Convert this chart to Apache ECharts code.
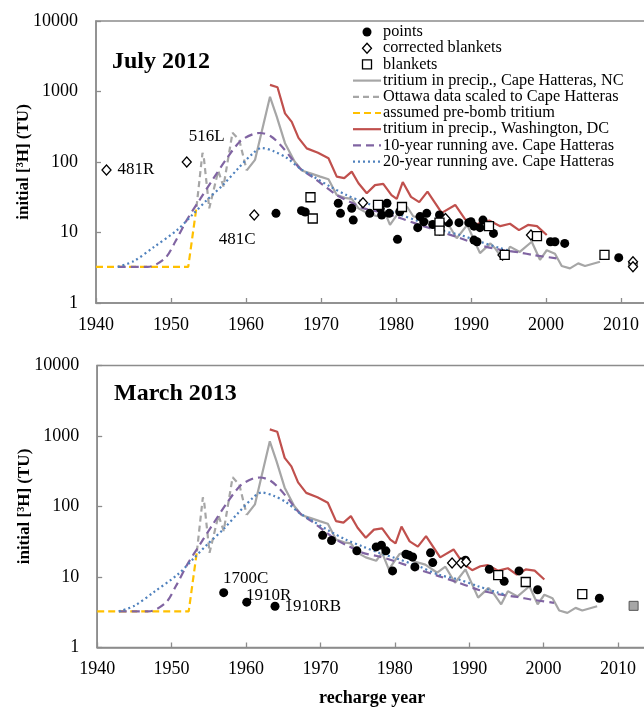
<!DOCTYPE html>
<html><head><meta charset="utf-8">
<script src="https://cdn.jsdelivr.net/npm/echarts@6/dist/echarts.min.js"></script>
<style>html,body{margin:0;padding:0;background:#fff}#c{width:644px;height:707px}</style>
</head><body><div id="c"></div>
<script>
// ---- data ----
const yTicks = [1, 10, 100, 1000, 10000];
const xTicks = [1940, 1950, 1960, 1970, 1980, 1990, 2000, 2010];
const panelTitles = ['July 2012', 'March 2013'];

const capeHatteras = [[1960.1,76],[1961.2,107],[1963.2,840],[1964.1,440],[1965.2,185],[1966.5,101],[1967.5,75],[1968.6,69],[1969.9,62],[1971.0,57],[1972.1,34],[1973.2,31],[1974.1,30],[1975.0,22],[1976.1,19],[1977.5,17],[1978.3,22],[1979.2,12.8],[1980.6,21],[1981.5,23],[1982.3,17],[1984.1,15],[1985.7,11.5],[1986.8,14],[1988.1,8.3],[1989.5,12.8],[1991.2,5.1],[1992.6,7.0],[1993.2,6.0],[1994.3,4.1],[1995.2,6.3],[1996.5,5.3],[1998.1,7.4],[1999.2,4.1],[2000.1,5.6],[2001.2,5.0],[2002.1,3.35],[2003.2,3.1],[2004.3,3.65],[2005.2,3.35],[2007.2,3.85]];
const ottawa = [[1953.4,23],[1954.2,135],[1954.4,110],[1955.1,22],[1956.3,75],[1957.0,45],[1958.2,260],[1959.1,205],[1960.1,76]];
const preBomb = [[1940,3.25],[1952.3,3.25],[1953.4,23]];
const washington = [[1963.2,1240],[1964.2,1150],[1965.2,490],[1966.1,370],[1967.0,220],[1968.1,156],[1969.6,135],[1971.0,113],[1972.1,62],[1973.1,59],[1974.1,73],[1975.0,50],[1976.1,36],[1977.2,47],[1978.3,49],[1979.4,34],[1980.1,30],[1980.9,52],[1982.0,32],[1983.1,27],[1984.2,38],[1986.1,19],[1987.9,24.6],[1989.2,15.5],[1990.4,12.5],[1991.5,14.2],[1992.5,14.7],[1993.9,12.3],[1995.2,13.3],[1996.4,10.8],[1997.6,12.8],[1998.8,12.3],[2000.1,9.2]];
const ave10 = [[1942.9,3.25],[1946.9,3.25],[1949.2,4.3],[1950.6,7.5],[1952.1,15],[1953.9,30],[1955.5,55],[1957.5,115],[1959.3,200],[1961.0,250],[1961.9,258],[1963.3,232],[1964.6,174],[1965.9,119],[1967.2,81],[1968.8,62],[1970.3,47],[1972.1,34],[1973.9,27],[1975.7,22],[1977.9,19.5],[1980.2,16.5],[1983.2,12.8],[1985.9,10.3],[1988.6,8.3],[1991.2,6.6],[1993.9,5.7],[1996.5,5.2],[1998.3,4.8],[2001.4,4.3]];
const ave20 = [[1942.9,3.25],[1945.0,3.9],[1947.7,6.2],[1950.8,10.8],[1953.0,18.5],[1954.8,29],[1957.0,48],[1959.0,82],[1961.0,135],[1962.1,158],[1963.7,142],[1965.4,115],[1967.2,81],[1969.0,62],[1971.2,45],[1973.4,34],[1975.7,27],[1977.9,22],[1980.1,18.5],[1983.2,14.2],[1985.9,10.8],[1988.6,9.2],[1991.2,7.4],[1993.9,6.0],[1994.9,5.6]];

// July 2012 panel
const pointsTop = [[1964.0,18.7],[1967.4,20.4],[1967.9,19.5],[1972.3,26],[1972.6,18.7],[1974.1,22],[1974.3,15],[1976.5,18.7],[1977.9,22],[1978.1,17.7],[1978.8,26],[1979.1,18.7],[1980.2,8],[1980.5,19.7],[1982.9,11.7],[1983.2,16.8],[1983.7,14.2],[1984.1,18.7],[1984.9,13],[1985.8,17.7],[1986.4,15],[1987.0,13.8],[1988.4,13.8],[1989.7,13.8],[1990.0,14.2],[1990.4,7.8],[1990.8,7.4],[1990.4,12.3],[1991.2,11.7],[1991.6,15],[1993.0,9.7],[2000.6,7.4],[2001.2,7.4],[2002.5,7.0],[2009.7,4.4]];
const corrTop = [[1941.4,77],[1952.1,100],[1961.1,17.7],[1975.6,26.5],[1985.8,10.8],[1986.6,15.8],[1994.2,4.8],[1998.0,9.2],[2011.6,3.85],[2011.6,3.27]];
const corrTopLabels = ['481R','516L','481C','','','','','','',''];
const blanketsTop = [[1968.6,31.6],[1968.9,15.8],[1977.6,24.6],[1980.8,23],[1985.8,13.8],[1985.8,10.6],[1992.4,12.3],[1994.5,4.8],[1998.8,8.9],[2007.8,4.8]];
const grayTop = [[2011.6,3.55]];

// March 2013 panel
const pointsBottom = [[1957.0,6.0],[1960.1,4.4],[1963.9,3.85],[1970.3,39],[1971.5,33],[1974.9,23.5],[1977.5,26.7],[1978.2,28.3],[1978.8,23.5],[1979.7,12.2],[1981.5,21],[1981.9,20.4],[1982.4,19.2],[1982.7,13.9],[1984.8,22],[1985.1,16],[1989.5,17.3],[1992.7,12.9],[1994.7,8.7],[1996.7,12.2],[1999.2,6.6],[2007.5,5.0]];
const pointsBottomLabels = ['1700C','1910R','1910RB','','','','','','','','','','','','','','','','','','',''];
const corrBottom = [[1987.7,15.8],[1988.9,15.8],[1989.6,16.4]];
const blanketsBottom = [[1993.9,10.6],[1997.6,8.5],[2005.2,5.7]];
const grayBottom = [[2012.1,3.9]];

// ---- chart ----
const FONT = 'Liberation Serif, Times New Roman, serif';
const AX = '#8c8c8c';
const STY = {
  ch: {name: 'tritium in precip., Cape Hatteras, NC', color: '#a6a6a6', dash: null},
  ot: {name: 'Ottawa data scaled to Cape Hatteras', color: '#a6a6a6', dash: [6, 4]},
  pb: {name: 'assumed pre-bomb tritium', color: '#ffc000', dash: [7, 4]},
  dc: {name: 'tritium in precip., Washington, DC', color: '#c0504d', dash: null},
  a10: {name: '10-year running ave. Cape Hatteras', color: '#8064a2', dash: [8, 5]},
  a20: {name: '20-year running ave. Cape Hatteras', color: '#4f81bd', dash: [2, 3]}
};
const labelOffsets = {
  '481R': {position: 'right', distance: 6},
  '516L': {position: 'inside', offset: [20, -25]},
  '481C': {position: 'inside', offset: [-17, 25]},
  '1700C': {position: 'inside', offset: [22, -14]},
  '1910R': {position: 'inside', offset: [22, -7]},
  '1910RB': {position: 'right', distance: 5}
};
function labeled(data, labels) {
  return data.map((d, i) => {
    const t = labels[i];
    if (!t) return d;
    return {value: d, label: Object.assign({show: true, formatter: t, color: '#000', opacity: 1, fontFamily: FONT, fontSize: 17}, labelOffsets[t])};
  });
}

function lineSeries(idx) {
  const mk = (key, data, smooth) => ({
    type: 'line', name: STY[key].name, xAxisIndex: idx, yAxisIndex: idx, showSymbol: false, symbol: 'none',
    animation: false, z: 2, data: data, smooth: smooth || false,
    lineStyle: {color: STY[key].color, width: 2.2, type: STY[key].dash || 'solid'},
    itemStyle: {color: STY[key].color}
  });
  return [mk('ch', capeHatteras), mk('ot', ottawa), mk('pb', preBomb), mk('dc', washington), mk('a10', ave10, 0.3), mk('a20', ave20, 0.3)];
}
function scatterSeries(idx, pts, corr, bl, gray, grayShape) {
  const base = {type: 'scatter', xAxisIndex: idx, yAxisIndex: idx, animation: false, z: 5};
  return [
    Object.assign({}, base, {name: 'overlap', data: gray, symbol: grayShape, symbolSize: 9, z: 4,
      itemStyle: {color: '#a6a6a6', borderColor: '#555', borderWidth: 1, opacity: 1}}),
    Object.assign({}, base, {name: 'points', data: pts, symbol: 'circle', symbolSize: 9, itemStyle: {color: '#000', opacity: 1}}),
    Object.assign({}, base, {name: 'corrected blankets', data: corr, symbol: 'diamond', symbolSize: [9, 10], itemStyle: {color: '#fff', borderColor: '#000', borderWidth: 1.3, opacity: 1}}),
    Object.assign({}, base, {name: 'blankets', data: bl, symbol: 'rect', symbolSize: 9, itemStyle: {color: '#fff', borderColor: '#000', borderWidth: 1.3, opacity: 1}})
  ];
}

// custom legend (drawn as graphic elements with real text)
const legendRows = [
  {kind: 'circle', text: 'points'},
  {kind: 'diamond', text: 'corrected blankets'},
  {kind: 'square', text: 'blankets'},
  {kind: 'line', key: 'ch'}, {kind: 'line', key: 'ot'}, {kind: 'line', key: 'pb'},
  {kind: 'line', key: 'dc'}, {kind: 'line', key: 'a10'}, {kind: 'line', key: 'a20'}
];
const LG = {x0: 353, x1: 381, tx: 383, y0: 32, dy: 16.2, font: 16.3};
const legendGraphics = [];
legendRows.forEach((r, i) => {
  const y = LG.y0 + i * LG.dy;
  const cx = (LG.x0 + LG.x1) / 2;
  if (r.kind === 'line') {
    const s = STY[r.key];
    legendGraphics.push({type: 'line', silent: true, shape: {x1: LG.x0, y1: y, x2: LG.x1, y2: y},
      style: {stroke: s.color, lineWidth: 2.2, lineDash: s.dash || null}});
  } else if (r.kind === 'circle') {
    legendGraphics.push({type: 'circle', silent: true, shape: {cx: cx, cy: y, r: 4.5}, style: {fill: '#000'}});
  } else if (r.kind === 'diamond') {
    legendGraphics.push({type: 'polygon', silent: true, shape: {points: [[cx, y - 5], [cx + 4.5, y], [cx, y + 5], [cx - 4.5, y]]},
      style: {fill: '#fff', stroke: '#000', lineWidth: 1.3}});
  } else {
    legendGraphics.push({type: 'rect', silent: true, shape: {x: cx - 4.5, y: y - 4.5, width: 9, height: 9},
      style: {fill: '#fff', stroke: '#000', lineWidth: 1.3}});
  }
  legendGraphics.push({type: 'text', silent: true, x: LG.tx, y: y,
    style: {text: r.text || STY[r.key].name, fill: '#000', font: LG.font + 'px ' + FONT, textVerticalAlign: 'middle', verticalAlign: 'middle', textAlign: 'left'}});
});

const grids = [
  {left: 96, top: 21, right: -3, height: 282, xmax: 2013.47},
  {left: 97.2, top: 365.5, right: -3, height: 282, xmax: 2013.9}
];

const option = {
  animation: false,
  textStyle: {fontFamily: FONT},
  grid: grids.map(g => ({left: g.left, top: g.top, right: g.right, height: g.height, show: true, borderColor: AX, borderWidth: 1.5,
    containLabel: false, outerBoundsMode: 'none'})),
  xAxis: grids.map((g, i) => ({
    type: 'value', gridIndex: i, min: xTicks[0], max: g.xmax, interval: 10,
    axisLine: {show: true, lineStyle: {color: AX, width: 1.5}},
    axisTick: {show: true, inside: true, length: 5, lineStyle: {color: AX, width: 1.3}},
    splitLine: {show: false},
    axisLabel: {color: '#000', fontFamily: FONT, fontSize: 18, margin: 13, showMaxLabel: false,
      formatter: v => xTicks.includes(Math.round(v)) ? String(Math.round(v)) : ''},
    name: i === 1 ? 'recharge year' : '', nameLocation: 'middle', nameGap: 42, nameMoveOverlap: false,
    nameTextStyle: {color: '#000', fontFamily: FONT, fontSize: 18, fontWeight: 'bold'}
  })),
  yAxis: grids.map((g, i) => ({
    type: 'log', logBase: 10, gridIndex: i, min: yTicks[0], max: yTicks[yTicks.length - 1],
    axisLine: {show: true, lineStyle: {color: AX, width: 1.5}},
    axisTick: {show: true, inside: true, length: 5, lineStyle: {color: AX, width: 1.3}},
    splitLine: {show: false}, minorTick: {show: false},
    axisLabel: {color: '#000', fontFamily: FONT, fontSize: 18, margin: 18, formatter: v => String(Math.round(v))},
    name: 'initial [³H] (TU)', nameLocation: 'middle', nameGap: 64, nameRotate: 90, nameMoveOverlap: false,
    nameTextStyle: {color: '#000', fontFamily: FONT, fontSize: 17, fontWeight: 'bold'}
  })),
  title: panelTitles.map((t, i) => ({
    text: t, left: i === 0 ? 112 : 114, top: i === 0 ? 50 : 382,
    textStyle: {color: '#000', fontFamily: FONT, fontSize: 24, fontWeight: 'bold'}, padding: 0
  })),
  graphic: {elements: legendGraphics},
  series: [].concat(
    lineSeries(0),
    scatterSeries(0, pointsTop, labeled(corrTop, corrTopLabels), blanketsTop, grayTop, 'circle'),
    lineSeries(1),
    scatterSeries(1, labeled(pointsBottom, pointsBottomLabels), corrBottom, blanketsBottom, grayBottom, 'rect')
  )
};
const chart = echarts.init(document.getElementById('c'), null, {renderer: 'canvas'});
chart.setOption(option);
</script>
</body></html>
